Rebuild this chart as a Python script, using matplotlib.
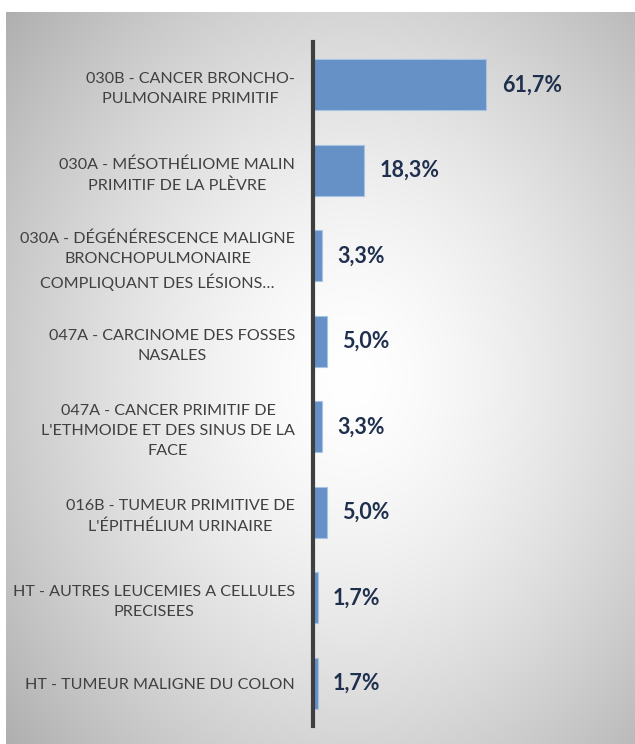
import numpy as np
import matplotlib.pyplot as plt
import matplotlib.transforms as mtransforms

# chart data
categories = [
    "030B - CANCER BRONCHO-\nPULMONAIRE PRIMITIF",
    "030A - MÉSOTHÉLIOME MALIN\nPRIMITIF DE LA PLÈVRE",
    "030A - DÉGÉNÉRESCENCE MALIGNE\nBRONCHOPULMONAIRE\nCOMPLIQUANT DES LÉSIONS…",
    "047A - CARCINOME DES FOSSES\nNASALES",
    "047A - CANCER PRIMITIF DE\nL'ETHMOIDE ET DES SINUS DE LA\nFACE",
    "016B - TUMEUR PRIMITIVE DE\nL'ÉPITHÉLIUM URINAIRE",
    "HT - AUTRES LEUCEMIES A CELLULES\nPRECISEES",
    "HT - TUMEUR MALIGNE DU COLON",
]
values = [61.7, 18.3, 3.3, 5.0, 3.3, 5.0, 1.7, 1.7]
value_labels = ["61,7%", "18,3%", "3,3%", "5,0%", "3,3%", "5,0%", "1,7%", "1,7%"]

W, H = 635, 744
fig = plt.figure(figsize=(W / 100, H / 100), dpi=100)
fig.patch.set_facecolor("white")

# radial grey gradient background box
bg = fig.add_axes([6 / W, 0, 1 - 6 / W, (H - 12) / H])
bg.set_axis_off()
gx, gy = np.meshgrid(np.linspace(0, 1, 400), np.linspace(0, 1, 400))
r = np.sqrt(((gx - 0.55) / 0.7) ** 2 + ((gy - 0.5) / 0.75) ** 2)
shade = 1.0 - 0.3 * np.clip(r, 0, 1.2) ** 1.5
bg.imshow(np.dstack([shade] * 3), extent=[0, 1, 0, 1], origin="upper", aspect="auto")
bg.set_xlim(0, 1)
bg.set_ylim(0, 1)

# main bar axes
left_px, right_px = 313, 613
top_px, bot_px = 42, 726
ax = fig.add_axes([left_px / W, (H - bot_px) / H, (right_px - left_px) / W, (bot_px - top_px) / H])
ax.patch.set_alpha(0)

y = np.arange(len(categories))
ax.barh(y, values, height=0.6, color="#6591c7", edgecolor="#a9c3e4", linewidth=0.8)
ax.set_ylim(len(categories) - 0.5, -0.5)
ax.set_xlim(0, (right_px - left_px) / 2.81)

ax.set_yticks(y)
ax.set_yticklabels(categories, fontsize=11.6, color="#404040", family=["Lato", "DejaVu Sans"])
for t in ax.get_yticklabels():
    t.set_multialignment("center")
    t.set_linespacing(1.55)
ax.tick_params(axis="y", length=0, pad=13)
ax.set_xticks([])

for s in ["top", "right", "bottom"]:
    ax.spines[s].set_visible(False)
ax.spines["left"].set_color("#3f3f3f")
ax.spines["left"].set_linewidth(3)

offset = mtransforms.offset_copy(ax.transData, fig=fig, x=11, y=0, units="points")
for yi, v, lab in zip(y, values, value_labels):
    ax.text(v, yi, lab, transform=offset, ha="left", va="center",
            fontsize=15.5, fontweight="bold", color="#1f2f4e", family=["Lato", "DejaVu Sans"])

fig.savefig("out.png", dpi=100)
